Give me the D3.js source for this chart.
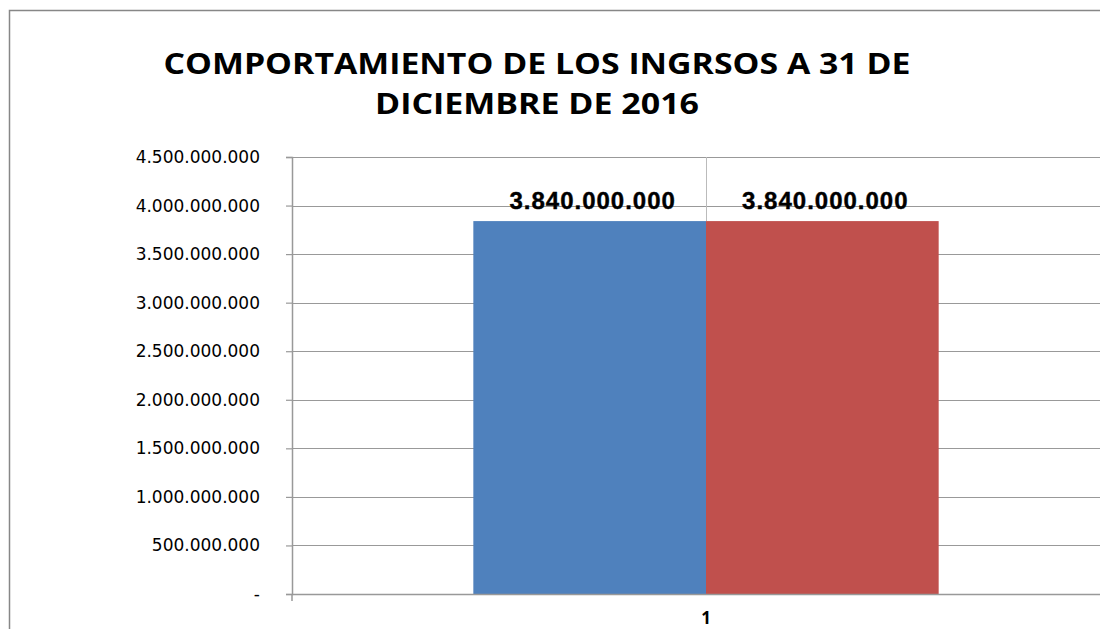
<!DOCTYPE html>
<html>
<head>
<meta charset="utf-8">
<script src="https://cdn.jsdelivr.net/npm/d3@7"></script>
<style>
  body { margin: 0; background: #fff; }
  svg { display: block; }
</style>
</head>
<body>
<div id="chart"></div>
<script>
// Ingresos a 31 de diciembre de 2016
const categories = ["1"];
const seriesNames = ["Presupuestado", "Recaudado"];
const seriesValues = [3840000000, 3840000000];
const yTicks = [0, 500000000, 1000000000, 1500000000, 2000000000, 2500000000, 3000000000, 3500000000, 4000000000, 4500000000];
const titleLines = ["COMPORTAMIENTO DE LOS INGRSOS A 31 DE", "DICIEMBRE DE 2016"];
const colors = ["#4f81bd", "#c0504d"];

{
    const W = 1100, H = 629;
    const margin = { top: 157, right: -20, bottom: 35, left: 292 };
    const width = W - margin.left - margin.right;
    const height = H - margin.top - margin.bottom;

    const svg = d3.select("#chart")
        .append("svg")
        .attr("width", W)
        .attr("height", H);

    // chart border (cropped on right and bottom)
    svg.append("rect")
        .attr("x", 9.5).attr("y", 10.5)
        .attr("width", W + 20).attr("height", H + 20)
        .attr("fill", "none")
        .attr("stroke", "#878787")
        .attr("stroke-width", 1.5);

    // title
    const titleWidths = [747, 324];
    svg.append("g").selectAll("text")
        .data(titleLines)
        .join("text")
        .attr("x", 537)
        .attr("y", (d, i) => 74 + i * 40)
        .attr("text-anchor", "middle")
        .attr("textLength", (d, i) => titleWidths[i])
        .attr("lengthAdjust", "spacingAndGlyphs")
        .style("font-family", "'Open Sans', sans-serif")
        .style("font-weight", "bold")
        .style("font-size", "28px")
        .attr("fill", "#000")
        .text(d => d);

    const g = svg.append("g")
        .attr("transform", `translate(${margin.left},${margin.top})`);

    const x0 = d3.scaleBand().domain(categories).range([0, width]);
    const x1 = d3.scaleBand().domain(seriesNames)
        .range([x0.bandwidth() * 0.219, x0.bandwidth() * 0.781]);
    const y = d3.scaleLinear().domain([0, 4500000000]).range([height, 0]);

    const fmt = v => v === 0 ? "-" : d3.format(",")(v).replace(/,/g, ".");

    // gridlines
    g.append("g")
        .selectAll("line")
        .data(yTicks.slice(1))
        .join("line")
        .attr("x1", 0).attr("x2", width)
        .attr("y1", d => Math.round(y(d)) + 0.5)
        .attr("y2", d => Math.round(y(d)) + 0.5)
        .attr("stroke", "#999")
        .attr("stroke-width", 1.2);

    // center vertical gridline
    g.append("line")
        .attr("x1", x0("1") + x0.bandwidth() / 2 + 0.5)
        .attr("x2", x0("1") + x0.bandwidth() / 2 + 0.5)
        .attr("y1", 0).attr("y2", y(Math.max(...seriesValues)))
        .attr("stroke", "#bbb");

    // bars
    g.append("g")
        .selectAll("rect")
        .data(seriesValues.map((v, i) => ({ name: seriesNames[i], value: v })))
        .join("rect")
        .attr("x", d => x0("1") + x1(d.name))
        .attr("y", d => y(d.value))
        .attr("width", x1.bandwidth())
        .attr("height", d => height - y(d.value))
        .attr("fill", (d, i) => colors[i]);

    // data labels
    g.append("g")
        .selectAll("text")
        .data(seriesValues.map((v, i) => ({ name: seriesNames[i], value: v })))
        .join("text")
        .attr("x", d => x0("1") + x1(d.name) + x1.bandwidth() / 2 + 3)
        .attr("y", d => y(d.value) - 12)
        .attr("text-anchor", "middle")
        .style("font-family", "'Liberation Sans', Arial, sans-serif")
        .style("font-weight", "bold")
        .style("font-size", "24px")
        .style("letter-spacing", "1px")
        .style("stroke", "#000")
        .style("stroke-width", "0.4px")
        .text(d => fmt(d.value));

    // y axis
    const yAxis = g.append("g")
        .call(d3.axisLeft(y).tickValues(yTicks).tickSize(6).tickPadding(26).tickFormat(fmt));
    yAxis.select(".domain").attr("stroke", "#999").attr("stroke-width", 1.5);
    yAxis.selectAll(".tick line").attr("stroke", "#999").attr("stroke-width", 1.2);
    yAxis.selectAll(".tick text")
        .style("font-family", "'DejaVu Sans', sans-serif")
        .style("font-size", "17px")
        .attr("fill", "#000");

    // x axis
    const xAxis = g.append("g")
        .attr("transform", `translate(0,${height})`)
        .call(d3.axisBottom(x0).tickSize(0).tickPadding(18));
    xAxis.select(".domain").attr("stroke", "#999").attr("stroke-width", 1.5);
    xAxis.selectAll(".tick text")
        .style("font-family", "'Open Sans', sans-serif")
        .style("font-weight", "bold")
        .style("font-size", "17px")
        .attr("fill", "#000");
    xAxis.append("line")
        .attr("x1", 0).attr("x2", 0)
        .attr("y1", 0).attr("y2", 7)
        .attr("stroke", "#999").attr("stroke-width", 1.5);
}
</script>
</body>
</html>
